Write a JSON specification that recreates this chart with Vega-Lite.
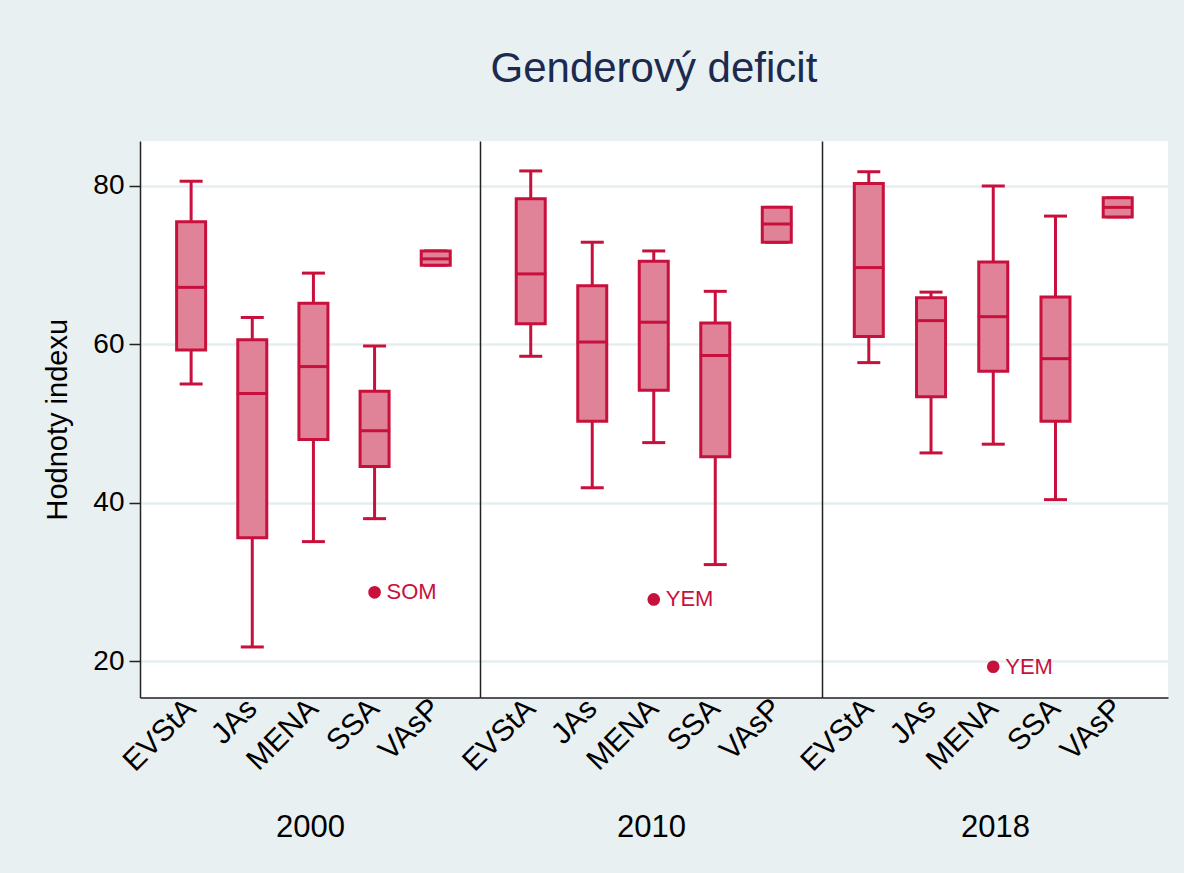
{
  "$schema": "https://vega.github.io/schema/vega-lite/v6.json",
  "background": "#e8f0f2",
  "padding": {"left": 43, "top": 48, "right": 16, "bottom": 30},
  "title": {"text": "Genderový deficit", "fontSize": 42, "font": "Liberation Sans", "fontWeight": "normal", "color": "#1b2a4e", "anchor": "middle", "offset": 50, "dx": 48},
  "datasets": {
    "boxes": [
      {"year": "2000", "region": "EVStA", "lo": 55.0, "q1": 59.3, "med": 67.2, "q3": 75.5, "hi": 80.6},
      {"year": "2000", "region": "JAs", "lo": 21.8, "q1": 35.6, "med": 53.8, "q3": 60.6, "hi": 63.4},
      {"year": "2000", "region": "MENA", "lo": 35.1, "q1": 48.0, "med": 57.2, "q3": 65.2, "hi": 69.0},
      {"year": "2000", "region": "SSA", "lo": 38.0, "q1": 44.6, "med": 49.1, "q3": 54.1, "hi": 59.8},
      {"year": "2000", "region": "VAsP", "lo": 70.0, "q1": 70.0, "med": 70.8, "q3": 71.8, "hi": 71.8},
      {"year": "2010", "region": "EVStA", "lo": 58.5, "q1": 62.6, "med": 68.9, "q3": 78.4, "hi": 81.9},
      {"year": "2010", "region": "JAs", "lo": 41.9, "q1": 50.3, "med": 60.3, "q3": 67.4, "hi": 72.9},
      {"year": "2010", "region": "MENA", "lo": 47.6, "q1": 54.2, "med": 62.8, "q3": 70.5, "hi": 71.8},
      {"year": "2010", "region": "SSA", "lo": 32.2, "q1": 45.8, "med": 58.6, "q3": 62.7, "hi": 66.7},
      {"year": "2010", "region": "VAsP", "lo": 72.9, "q1": 72.9, "med": 75.2, "q3": 77.3, "hi": 77.3},
      {"year": "2018", "region": "EVStA", "lo": 57.7, "q1": 61.0, "med": 69.7, "q3": 80.3, "hi": 81.8},
      {"year": "2018", "region": "JAs", "lo": 46.3, "q1": 53.4, "med": 63.0, "q3": 65.9, "hi": 66.6},
      {"year": "2018", "region": "MENA", "lo": 47.4, "q1": 56.6, "med": 63.5, "q3": 70.4, "hi": 80.0},
      {"year": "2018", "region": "SSA", "lo": 40.4, "q1": 50.3, "med": 58.2, "q3": 66.0, "hi": 76.2},
      {"year": "2018", "region": "VAsP", "lo": 76.1, "q1": 76.1, "med": 77.3, "q3": 78.5, "hi": 78.5}
    ],
    "outliers": [
      {"year": "2000", "region": "SSA", "value": 28.7, "label": "SOM"},
      {"year": "2010", "region": "MENA", "value": 27.8, "label": "YEM"},
      {"year": "2018", "region": "MENA", "value": 19.3, "label": "YEM"}
    ]
  },
  "spacing": 0,
  "bounds": "flush",
  "hconcat": [
    {
      "width": 340, "height": 556.5,
      "data": {"name": "boxes"},
      "transform": [{"filter": "datum.year == '2000'"}],
      "encoding": {
        "x": {"field": "region", "type": "nominal", "sort": null,
          "scale": {"domain": ["EVStA", "JAs", "MENA", "SSA", "VAsP"], "paddingInner": 0, "paddingOuter": 0.28, "align": 0.6},
          "axis": {"title": "2000"}}
      },
      "layer": [
        {"mark": {"type": "rule", "color": "#c8103c", "strokeWidth": 3},
         "encoding": {"y": {"field": "lo", "type": "quantitative", "scale": {"domain": [15.42, 85.68], "nice": false, "zero": false},
            "axis": {"title": "Hodnoty indexu", "values": [20, 40, 60, 80], "tickSize": 11, "labelPadding": 5, "titlePadding": 20}},
           "y2": {"field": "hi"}}},
        {"mark": {"type": "tick", "color": "#c8103c", "thickness": 3, "size": 23, "opacity": 1}, "encoding": {"y": {"field": "hi", "type": "quantitative"}}},
        {"mark": {"type": "tick", "color": "#c8103c", "thickness": 3, "size": 23, "opacity": 1}, "encoding": {"y": {"field": "lo", "type": "quantitative"}}},
        {"mark": {"type": "bar", "size": 29, "fill": "#e08298", "stroke": "#c8103c", "strokeWidth": 3, "fillOpacity": 1}, "encoding": {"y": {"field": "q1", "type": "quantitative"}, "y2": {"field": "q3"}}},
        {"mark": {"type": "tick", "color": "#c8103c", "thickness": 3, "size": 31, "opacity": 1}, "encoding": {"y": {"field": "med", "type": "quantitative"}}},
        {"data": {"name": "outliers"}, "transform": [{"filter": "datum.year == '2000'"}],
         "layer": [
           {"mark": {"type": "point", "filled": true, "size": 160, "color": "#c8103c", "opacity": 1}, "encoding": {"y": {"field": "value", "type": "quantitative"}}},
           {"mark": {"type": "text", "align": "left", "baseline": "middle", "dx": 12, "fontSize": 22, "color": "#c8103c"}, "encoding": {"y": {"field": "value", "type": "quantitative"}, "text": {"field": "label"}}}
         ]}
      ]
    },
    {
      "width": 342, "height": 556.5,
      "data": {"name": "boxes"},
      "transform": [{"filter": "datum.year == '2010'"}],
      "encoding": {
        "x": {"field": "region", "type": "nominal", "sort": null,
          "scale": {"domain": ["EVStA", "JAs", "MENA", "SSA", "VAsP"], "paddingInner": 0, "paddingOuter": 0.28, "align": 0.58},
          "axis": {"title": "2010"}}
      },
      "layer": [
        {"mark": {"type": "rule", "color": "#c8103c", "strokeWidth": 3},
         "encoding": {"y": {"field": "lo", "type": "quantitative", "scale": {"domain": [15.42, 85.68], "nice": false, "zero": false},
            "axis": {"title": null, "labels": false, "ticks": false, "values": [20, 40, 60, 80]}},
           "y2": {"field": "hi"}}},
        {"mark": {"type": "tick", "color": "#c8103c", "thickness": 3, "size": 23, "opacity": 1}, "encoding": {"y": {"field": "hi", "type": "quantitative"}}},
        {"mark": {"type": "tick", "color": "#c8103c", "thickness": 3, "size": 23, "opacity": 1}, "encoding": {"y": {"field": "lo", "type": "quantitative"}}},
        {"mark": {"type": "bar", "size": 29, "fill": "#e08298", "stroke": "#c8103c", "strokeWidth": 3, "fillOpacity": 1}, "encoding": {"y": {"field": "q1", "type": "quantitative"}, "y2": {"field": "q3"}}},
        {"mark": {"type": "tick", "color": "#c8103c", "thickness": 3, "size": 31, "opacity": 1}, "encoding": {"y": {"field": "med", "type": "quantitative"}}},
        {"data": {"name": "outliers"}, "transform": [{"filter": "datum.year == '2010'"}],
         "layer": [
           {"mark": {"type": "point", "filled": true, "size": 160, "color": "#c8103c", "opacity": 1}, "encoding": {"y": {"field": "value", "type": "quantitative"}}},
           {"mark": {"type": "text", "align": "left", "baseline": "middle", "dx": 12, "fontSize": 22, "color": "#c8103c"}, "encoding": {"y": {"field": "value", "type": "quantitative"}, "text": {"field": "label"}}}
         ]}
      ]
    },
    {
      "width": 346, "height": 556.5,
      "data": {"name": "boxes"},
      "transform": [{"filter": "datum.year == '2018'"}],
      "encoding": {
        "x": {"field": "region", "type": "nominal", "sort": null,
          "scale": {"domain": ["EVStA", "JAs", "MENA", "SSA", "VAsP"], "paddingInner": 0, "paddingOuter": 0.28, "align": 0.45},
          "axis": {"title": "2018"}}
      },
      "layer": [
        {"mark": {"type": "rule", "color": "#c8103c", "strokeWidth": 3},
         "encoding": {"y": {"field": "lo", "type": "quantitative", "scale": {"domain": [15.42, 85.68], "nice": false, "zero": false},
            "axis": {"title": null, "labels": false, "ticks": false, "values": [20, 40, 60, 80]}},
           "y2": {"field": "hi"}}},
        {"mark": {"type": "tick", "color": "#c8103c", "thickness": 3, "size": 23, "opacity": 1}, "encoding": {"y": {"field": "hi", "type": "quantitative"}}},
        {"mark": {"type": "tick", "color": "#c8103c", "thickness": 3, "size": 23, "opacity": 1}, "encoding": {"y": {"field": "lo", "type": "quantitative"}}},
        {"mark": {"type": "bar", "size": 29, "fill": "#e08298", "stroke": "#c8103c", "strokeWidth": 3, "fillOpacity": 1}, "encoding": {"y": {"field": "q1", "type": "quantitative"}, "y2": {"field": "q3"}}},
        {"mark": {"type": "tick", "color": "#c8103c", "thickness": 3, "size": 31, "opacity": 1}, "encoding": {"y": {"field": "med", "type": "quantitative"}}},
        {"data": {"name": "outliers"}, "transform": [{"filter": "datum.year == '2018'"}],
         "layer": [
           {"mark": {"type": "point", "filled": true, "size": 160, "color": "#c8103c", "opacity": 1}, "encoding": {"y": {"field": "value", "type": "quantitative"}}},
           {"mark": {"type": "text", "align": "left", "baseline": "middle", "dx": 12, "fontSize": 22, "color": "#c8103c"}, "encoding": {"y": {"field": "value", "type": "quantitative"}, "text": {"field": "label"}}}
         ]}
      ]
    }
  ],
  "config": {
    "font": "Liberation Sans",
    "view": {"fill": "white", "stroke": null},
    "axis": {
      "labelFont": "Liberation Sans", "titleFont": "Liberation Sans",
      "labelColor": "black", "titleColor": "black", "titleFontWeight": "normal",
      "domainColor": "#222222", "domainWidth": 1.5, "tickColor": "#222222", "tickWidth": 1.5,
      "gridColor": "#e4eef0", "gridWidth": 2.5
    },
    "axisY": {"labelFontSize": 28, "titleFontSize": 29, "grid": true},
    "axisX": {"labelAngle": -45, "labelBaseline": "middle", "labelFontSize": 30, "ticks": false, "labelPadding": 6, "titleFontSize": 31, "titlePadding": 36, "grid": false}
  }
}
